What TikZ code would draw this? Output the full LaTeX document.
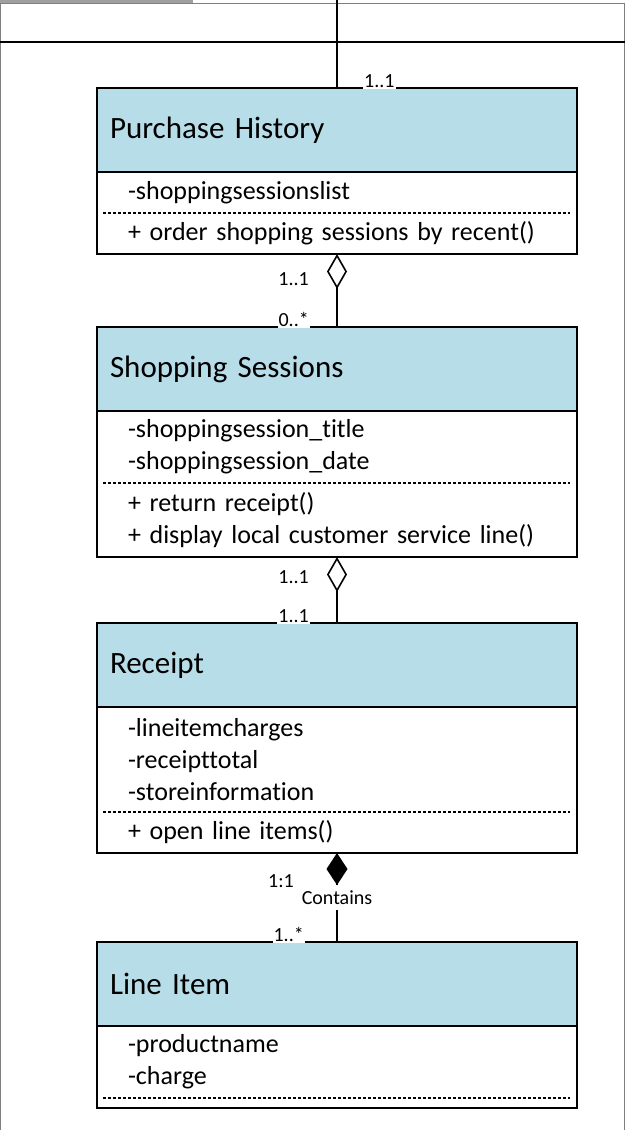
\documentclass[tikz,border=0pt]{standalone}
\usepackage{fontspec}
\setmainfont{Carlito}[Ligatures=NoCommon]
\usetikzlibrary{arrows.meta,positioning}
\definecolor{headblue}{RGB}{183,221,232}
\definecolor{framegrey}{RGB}{128,128,128}
\definecolor{tabgrey}{RGB}{160,160,160}
\tikzset{
  class head/.style={draw, line width=1.6pt, fill=headblue, anchor=north west, outer sep=0pt,
    minimum width=480pt, minimum height=84pt, inner xsep=13pt, text width=454pt, align=left,
    font=\fontsize{31}{36}\selectfont},
  class part/.style={anchor=north west, outer sep=0pt, minimum width=480pt, inner xsep=31pt,
    inner ysep=0pt, text width=418pt, align=left, font=\fontsize{26}{32}\selectfont},
  class box/.style={line width=1.6pt},
  divider/.style={line width=1.2pt, dash pattern=on 3pt off 2pt},
  aggregation/.style={line width=1.6pt, -{Diamond[open, length=35pt, width=20pt, line width=1.6pt]}},
  composition/.style={line width=1.6pt, -{Diamond[length=32pt, width=21pt]}},
  mult/.style={fill=white, inner sep=1pt, font=\fontsize{20}{22}\selectfont},
}
\begin{document}
\begin{tikzpicture}[x=1pt, y=-1pt]
  \useasboundingbox (0,0) rectangle (625,1130);
  \fill[tabgrey] (0,0) rectangle (193,3);
  \draw[framegrey, line width=1.4pt] (0,3.5) -- (625,3.5) (0.7,3) -- (0.7,1130) (624.3,3) -- (624.3,1130);
  \draw[line width=1.8pt] (0,42) -- (625,42);
  \coordinate (frame top) at (337,0);

  \node[class head] (ph) at (97,88) {Purchase History};
  \node[class part, minimum height=41pt] (ph attr) at (ph.south west) {-shoppingsessionslist};
  \node[class part, minimum height=41pt] (ph ops) at (ph attr.south west) {+ order shopping sessions by recent()};
  \draw[class box] (ph.north west) rectangle (ph ops.south east);
  \draw[divider] ([xshift=6pt]ph attr.south west) -- ([xshift=-7pt]ph attr.south east);

  \node[class head] (ss) at (97,327) {Shopping Sessions};
  \node[class part, minimum height=72pt] (ss attr) at (ss.south west) {-shoppingsession\_title\\-shoppingsession\_date};
  \node[class part, minimum height=74pt] (ss ops) at (ss attr.south west) {+ return receipt()\\+ display local customer service line()};
  \draw[class box] (ss.north west) rectangle (ss ops.south east);
  \draw[divider] ([xshift=6pt]ss attr.south west) -- ([xshift=-7pt]ss attr.south east);

  \node[class head] (r) at (97,623) {Receipt};
  \node[class part, minimum height=105pt] (r attr) at (r.south west) {-lineitemcharges\\-receipttotal\\-storeinformation};
  \node[class part, minimum height=41pt] (r ops) at (r attr.south west) {+ open line items()};
  \draw[class box] (r.north west) rectangle (r ops.south east);
  \draw[divider] ([xshift=6pt]r attr.south west) -- ([xshift=-7pt]r attr.south east);

  \node[class head] (li) at (97,942) {Line Item};
  \node[class part, minimum height=72pt] (li attr) at (li.south west) {-productname\\-charge};
  \node[class part, minimum height=10pt] (li ops) at (li attr.south west) {};
  \draw[class box] (li.north west) rectangle (li ops.south east);
  \draw[divider] ([xshift=6pt]li attr.south west) -- ([xshift=-7pt]li attr.south east);

  \draw[line width=1.6pt] (frame top) -- (ph.north);
  \node[mult, anchor=south west] at ([xshift=26pt, yshift=-1pt]ph.north) {1..1};

  \draw[aggregation] (ss.north) -- (ph ops.south);
  \node[mult, anchor=east] at ([xshift=-27pt, yshift=-25pt]ph ops.south) {1..1};
  \node[mult, anchor=south east] at ([xshift=-27pt, yshift=-1pt]ss.north) {0..*};

  \draw[aggregation] (r.north) -- (ss ops.south);
  \node[mult, anchor=east] at ([xshift=-27pt, yshift=-20pt]ss ops.south) {1..1};
  \node[mult, anchor=south east] at ([xshift=-27pt, yshift=-1pt]r.north) {1..1};

  \draw[composition] (li.north) -- node[mult, inner ysep=6pt] {Contains} (r ops.south);
  \node[mult, anchor=east] at ([xshift=-42pt, yshift=-28pt]r ops.south) {1:1};
  \node[mult, anchor=south east] at ([xshift=-32pt, yshift=-1pt]li.north) {1..*};
\end{tikzpicture}
\end{document}
